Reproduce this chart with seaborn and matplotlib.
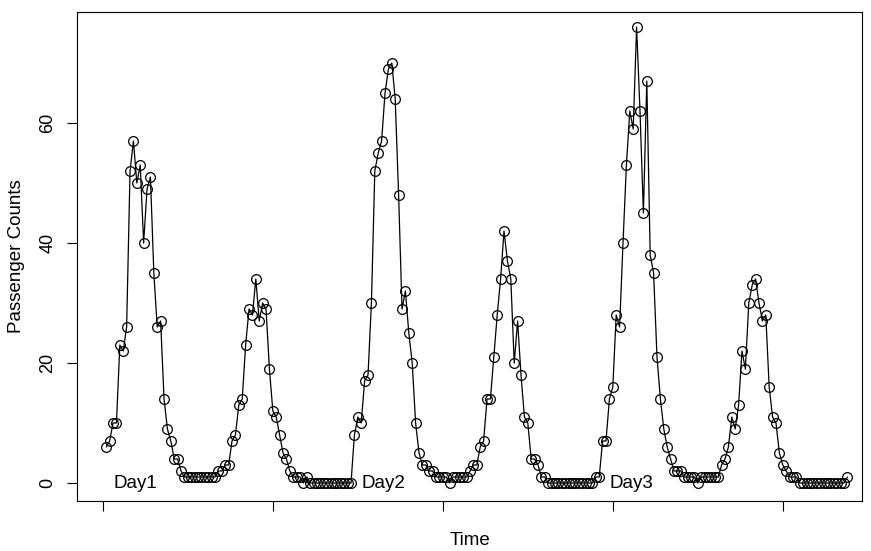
import numpy as np
import pandas as pd
import seaborn as sns
import matplotlib
matplotlib.use("Agg")
import matplotlib.pyplot as plt

# passenger counts, 73 readings per day
day1 = [6, 7, 10, 10, 23, 22, 26, 52, 57, 50,
        53, 40, 49, 51, 35, 26, 27, 14, 9, 7,
        4, 4, 2, 1, 1, 1, 1, 1, 1, 1,
        1, 1, 1, 2, 2, 3, 3, 7, 8, 13,
        14, 23, 29, 28, 34, 27, 30, 29, 19, 12,
        11, 8, 5, 4, 2, 1, 1, 1, 0, 1,
        0, 0, 0, 0, 0, 0, 0, 0, 0, 0, 0, 0, 0]
day2 = [8, 11, 10, 17, 18, 30, 52, 55, 57, 65,
        69, 70, 64, 48, 29, 32, 25, 20, 10, 5,
        3, 3, 2, 2, 1, 1, 1, 1, 0, 1,
        1, 1, 1, 1, 2, 3, 3, 6, 7, 14,
        14, 21, 28, 34, 42, 37, 34, 20, 27, 18,
        11, 10, 4, 4, 3, 1, 1, 0, 0, 0,
        0, 0, 0, 0, 0, 0, 0, 0, 0, 0, 0, 1, 1]
day3 = [7, 7, 14, 16, 28, 26, 40, 53, 62, 59,
        76, 62, 45, 67, 38, 35, 21, 14, 9, 6,
        4, 2, 2, 2, 1, 1, 1, 1, 0, 1,
        1, 1, 1, 1, 1, 3, 4, 6, 11, 9,
        13, 22, 19, 30, 33, 34, 30, 27, 28, 16,
        11, 10, 5, 3, 2, 1, 1, 1, 0, 0,
        0, 0, 0, 0, 0, 0, 0, 0, 0, 0, 0, 0, 1]
day_labels = ["Day1", "Day2", "Day3"]
x_ticks = [0, 50, 100, 150, 200]
y_ticks = [0, 20, 40, 60]

counts = day1 + day2 + day3
df = pd.DataFrame({"Time": np.arange(1, len(counts) + 1), "Count": counts})

sns.set_style("ticks")
plt.rcParams["font.family"] = ["Liberation Sans", "DejaVu Sans"]
plt.rcParams["text.color"] = "black"
plt.rcParams["axes.labelcolor"] = "black"
plt.rcParams["xtick.color"] = "black"
plt.rcParams["ytick.color"] = "black"

fig = plt.figure(figsize=(8.71, 5.51), dpi=100)
ax = fig.add_axes([77 / 871, 1 - 501 / 551, (862 - 77) / 871, (501 - 12) / 551])

sns.lineplot(data=df, x="Time", y="Count", ax=ax, color="black", linewidth=0.9,
             marker="o", markersize=7, markerfacecolor="none",
             markeredgecolor="black", markeredgewidth=0.9)

# day labels start just right of the first reading of each day
starts = [1, 1 + len(day1), 1 + len(day1) + len(day2)]
for s, lab in zip(starts, day_labels):
    ax.text(s + 2, 0, lab, ha="left", va="center", fontsize=13.5)

ax.set_xlim(-7.6, 223.3)
ax.set_ylim(-3.0, 78.5)
ax.set_xticks(x_ticks)
ax.set_xticklabels([])
ax.set_yticks(y_ticks)
ax.set_yticklabels([str(v) for v in y_ticks], rotation=90, va="center", fontsize=13)
ax.tick_params(direction="out", length=7, width=0.8, color="black")
ax.tick_params(axis="y", pad=8)
for sp in ax.spines.values():
    sp.set_linewidth(0.8)
    sp.set_color("black")

ax.set_xlabel("Time", fontsize=13.5, labelpad=12)
ax.set_ylabel("Passenger Counts", fontsize=13.5, labelpad=10)

fig.savefig("out.png", dpi=100)
